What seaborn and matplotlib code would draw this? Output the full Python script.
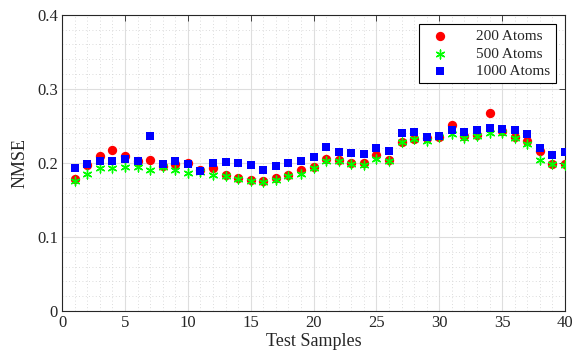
import matplotlib
matplotlib.use("Agg")
import matplotlib.pyplot as plt
import numpy as np
import pandas as pd
import seaborn as sns
from matplotlib.ticker import MultipleLocator

samples = list(range(1, 41))
nmse_200 = [0.178, 0.197, 0.209, 0.217, 0.209, 0.203, 0.204, 0.196, 0.198, 0.200,
            0.190, 0.193, 0.183, 0.179, 0.177, 0.176, 0.180, 0.184, 0.191, 0.194,
            0.205, 0.204, 0.200, 0.200, 0.210, 0.204, 0.228, 0.232, 0.233, 0.235,
            0.251, 0.236, 0.238, 0.268, 0.243, 0.235, 0.229, 0.216, 0.198, 0.198]
nmse_500 = [0.175, 0.185, 0.193, 0.193, 0.195, 0.194, 0.190, 0.194, 0.191, 0.186,
            0.188, 0.184, 0.182, 0.178, 0.176, 0.174, 0.177, 0.182, 0.185, 0.193,
            0.203, 0.203, 0.199, 0.197, 0.205, 0.203, 0.228, 0.232, 0.230, 0.235,
            0.239, 0.234, 0.236, 0.240, 0.241, 0.234, 0.225, 0.204, 0.198, 0.197]
nmse_1000 = [0.193, 0.198, 0.202, 0.202, 0.205, 0.203, 0.237, 0.199, 0.203, 0.198,
             0.189, 0.200, 0.201, 0.200, 0.197, 0.191, 0.196, 0.200, 0.203, 0.208,
             0.221, 0.215, 0.214, 0.212, 0.220, 0.216, 0.240, 0.242, 0.235, 0.236,
             0.244, 0.242, 0.244, 0.247, 0.246, 0.245, 0.239, 0.220, 0.211, 0.215]

series = [
    ("200 Atoms", nmse_200, "#ff0000", "o", 45),
    ("500 Atoms", nmse_500, "#00ff00", (6, 2, 0), 40),
    ("1000 Atoms", nmse_1000, "#0000ff", "s", 32),
]

sns.set_style("white")
plt.rcParams["font.family"] = ["Liberation Serif", "DejaVu Serif"]

fig, ax = plt.subplots(figsize=(5.76, 3.62), dpi=100)
fig.subplots_adjust(left=0.108, right=0.981, top=0.959, bottom=0.141)

for name, vals, col, mk, sz in series:
    df = pd.DataFrame({"sample": samples, "nmse": vals})
    if isinstance(mk, tuple):
        sns.scatterplot(data=df, x="sample", y="nmse", ax=ax, color=col, marker=mk,
                        s=sz, linewidth=1.0, edgecolor=col, label=name, zorder=3)
    else:
        sns.scatterplot(data=df, x="sample", y="nmse", ax=ax, color=col, marker=mk,
                        s=sz, linewidth=0, label=name, zorder=3)

ax.set_xlim(0, 40)
ax.set_ylim(0, 0.4)
ax.xaxis.set_major_locator(MultipleLocator(5))
ax.xaxis.set_minor_locator(MultipleLocator(1))
ax.yaxis.set_minor_locator(MultipleLocator(0.02))
ax.set_yticks(np.arange(0, 0.41, 0.1))
ax.set_yticklabels(["0", "0.1", "0.2", "0.3", "0.4"])
ax.grid(True, which="major", color="#dedede", linewidth=0.8)
ax.grid(True, which="minor", color="#d0d0d0", linestyle=(0, (1, 3)), linewidth=0.6)
ax.set_axisbelow(True)
ax.tick_params(which="major", direction="in", length=4, labelsize=12, top=True, right=True,
               width=0.6, pad=3)
ax.tick_params(which="minor", length=0)
for sp in ax.spines.values():
    sp.set_linewidth(0.8)
    sp.set_color("#262626")

ax.set_xlabel("Test Samples", fontsize=13, labelpad=1)
ax.set_ylabel("NMSE", fontsize=13, labelpad=6)

leg = ax.legend(loc="upper right", fontsize=11, frameon=True, fancybox=False,
                edgecolor="black", framealpha=1, borderaxespad=0.6,
                handletextpad=1.4, markerfirst=True, labelspacing=0.25,
                borderpad=0.35)
leg.get_frame().set_linewidth(0.8)
for t in leg.get_texts():
    t.set_ha("right")

fig.savefig("out.png", dpi=100)
